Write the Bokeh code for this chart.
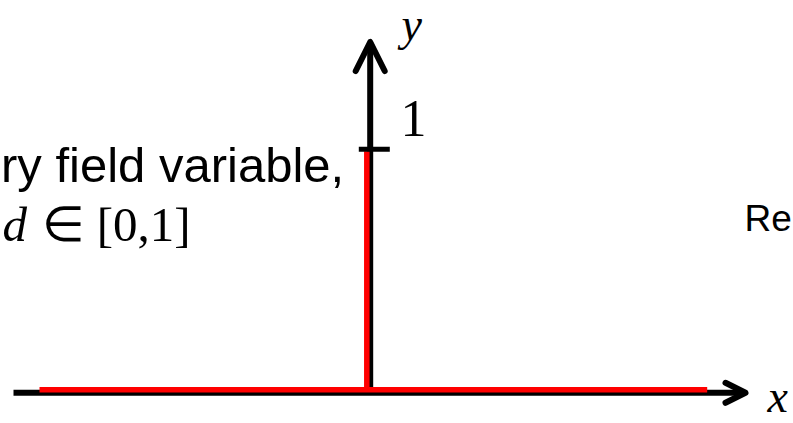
from bokeh.plotting import figure
from bokeh.models import Range1d, Arrow, OpenHead, Label
from bokeh.embed import file_html
from bokeh.resources import INLINE

# ---- data: sharp-crack phase-field profile d(x) ----
profile_x = [-1.0, 0.0, 0.0, 0.0, 1.04]
profile_d = [0.0, 0.0, 1.0, 0.0, 0.0]
tick_values = [1.0]
tick_labels = ["1"]

# ---- layout (page pixels; Bokeh's page template has no body margin) ----
W, H = 793, 423
ORIGIN_X, ORIGIN_Y = 366.3, 389.2      # page pixel of data (0, 0)
SX, SY = 327.3, 238.5                  # pixels per data unit
BASELINE_FIX = 0.36                    # label anchor correction (em)


def px2x(px):
    return (px - ORIGIN_X) / SX


def px2y(py):
    return (ORIGIN_Y - py) / SY


def label(px, py, text, font, size, style="normal"):
    return Label(x=px2x(px), y=px2y(py - BASELINE_FIX * size), text=text,
                 text_font=font, text_font_style=style,
                 text_font_size=f"{size}px", text_baseline="alphabetic",
                 text_color="black")


p = figure(width=W, height=H, output_backend="svg", toolbar_location=None,
           x_axis_location=None, y_axis_location=None,
           x_range=Range1d(px2x(0), px2x(W)),
           y_range=Range1d(px2y(H), px2y(0)),
           min_border=0, outline_line_color=None,
           background_fill_color="white", border_fill_color="white")
p.grid.visible = False

# black coordinate axes (slightly offset from the red profile, as drawn)
axis_y = px2y(392.3)
axis_x = px2x(369.7)
p.add_layout(Arrow(x_start=px2x(13), y_start=axis_y, x_end=px2x(745), y_end=axis_y,
                   line_color="black", line_width=6, level="underlay",
                   end=OpenHead(size=20, line_width=6, line_color="black",
                                line_cap="round", line_join="round")))
p.add_layout(Arrow(x_start=axis_x, y_start=axis_y, x_end=axis_x, y_end=px2y(41.5),
                   line_color="black", line_width=6, level="underlay",
                   end=OpenHead(size=29, line_width=6, line_color="black",
                                line_cap="round", line_join="round")))

# red profile
p.line(profile_x, profile_d, line_color="#ff0000", line_width=5.5,
       line_join="bevel", line_cap="butt")

# tick at d = 1
for tv, tl in zip(tick_values, tick_labels):
    ty = tv + (ORIGIN_Y - 148.7 - SY * tv) / SY
    p.add_layout(Arrow(x_start=px2x(358.3), y_start=ty, x_end=px2x(389.3), y_end=ty,
                       line_color="black", line_width=5, end=None))
    p.add_layout(label(400, 137, tl, "Liberation Serif", 52))

# axis names
p.add_layout(label(401, 41, "y", "Liberation Serif", 46, "italic"))
p.add_layout(label(767, 413, "x", "Liberation Serif", 46, "italic"))

# annotation texts
p.add_layout(label(0.5, 182, "ry field variable,", "Liberation Sans", 49))
p.add_layout(label(2, 242, "d", "Liberation Serif", 49, "italic"))
p.add_layout(label(41, 242, "∈ [0,1]", "Liberation Serif", 49))
p.add_layout(label(744, 231, "Re", "Liberation Sans", 37))

open("out.html", "w").write(file_html(p, INLINE))
